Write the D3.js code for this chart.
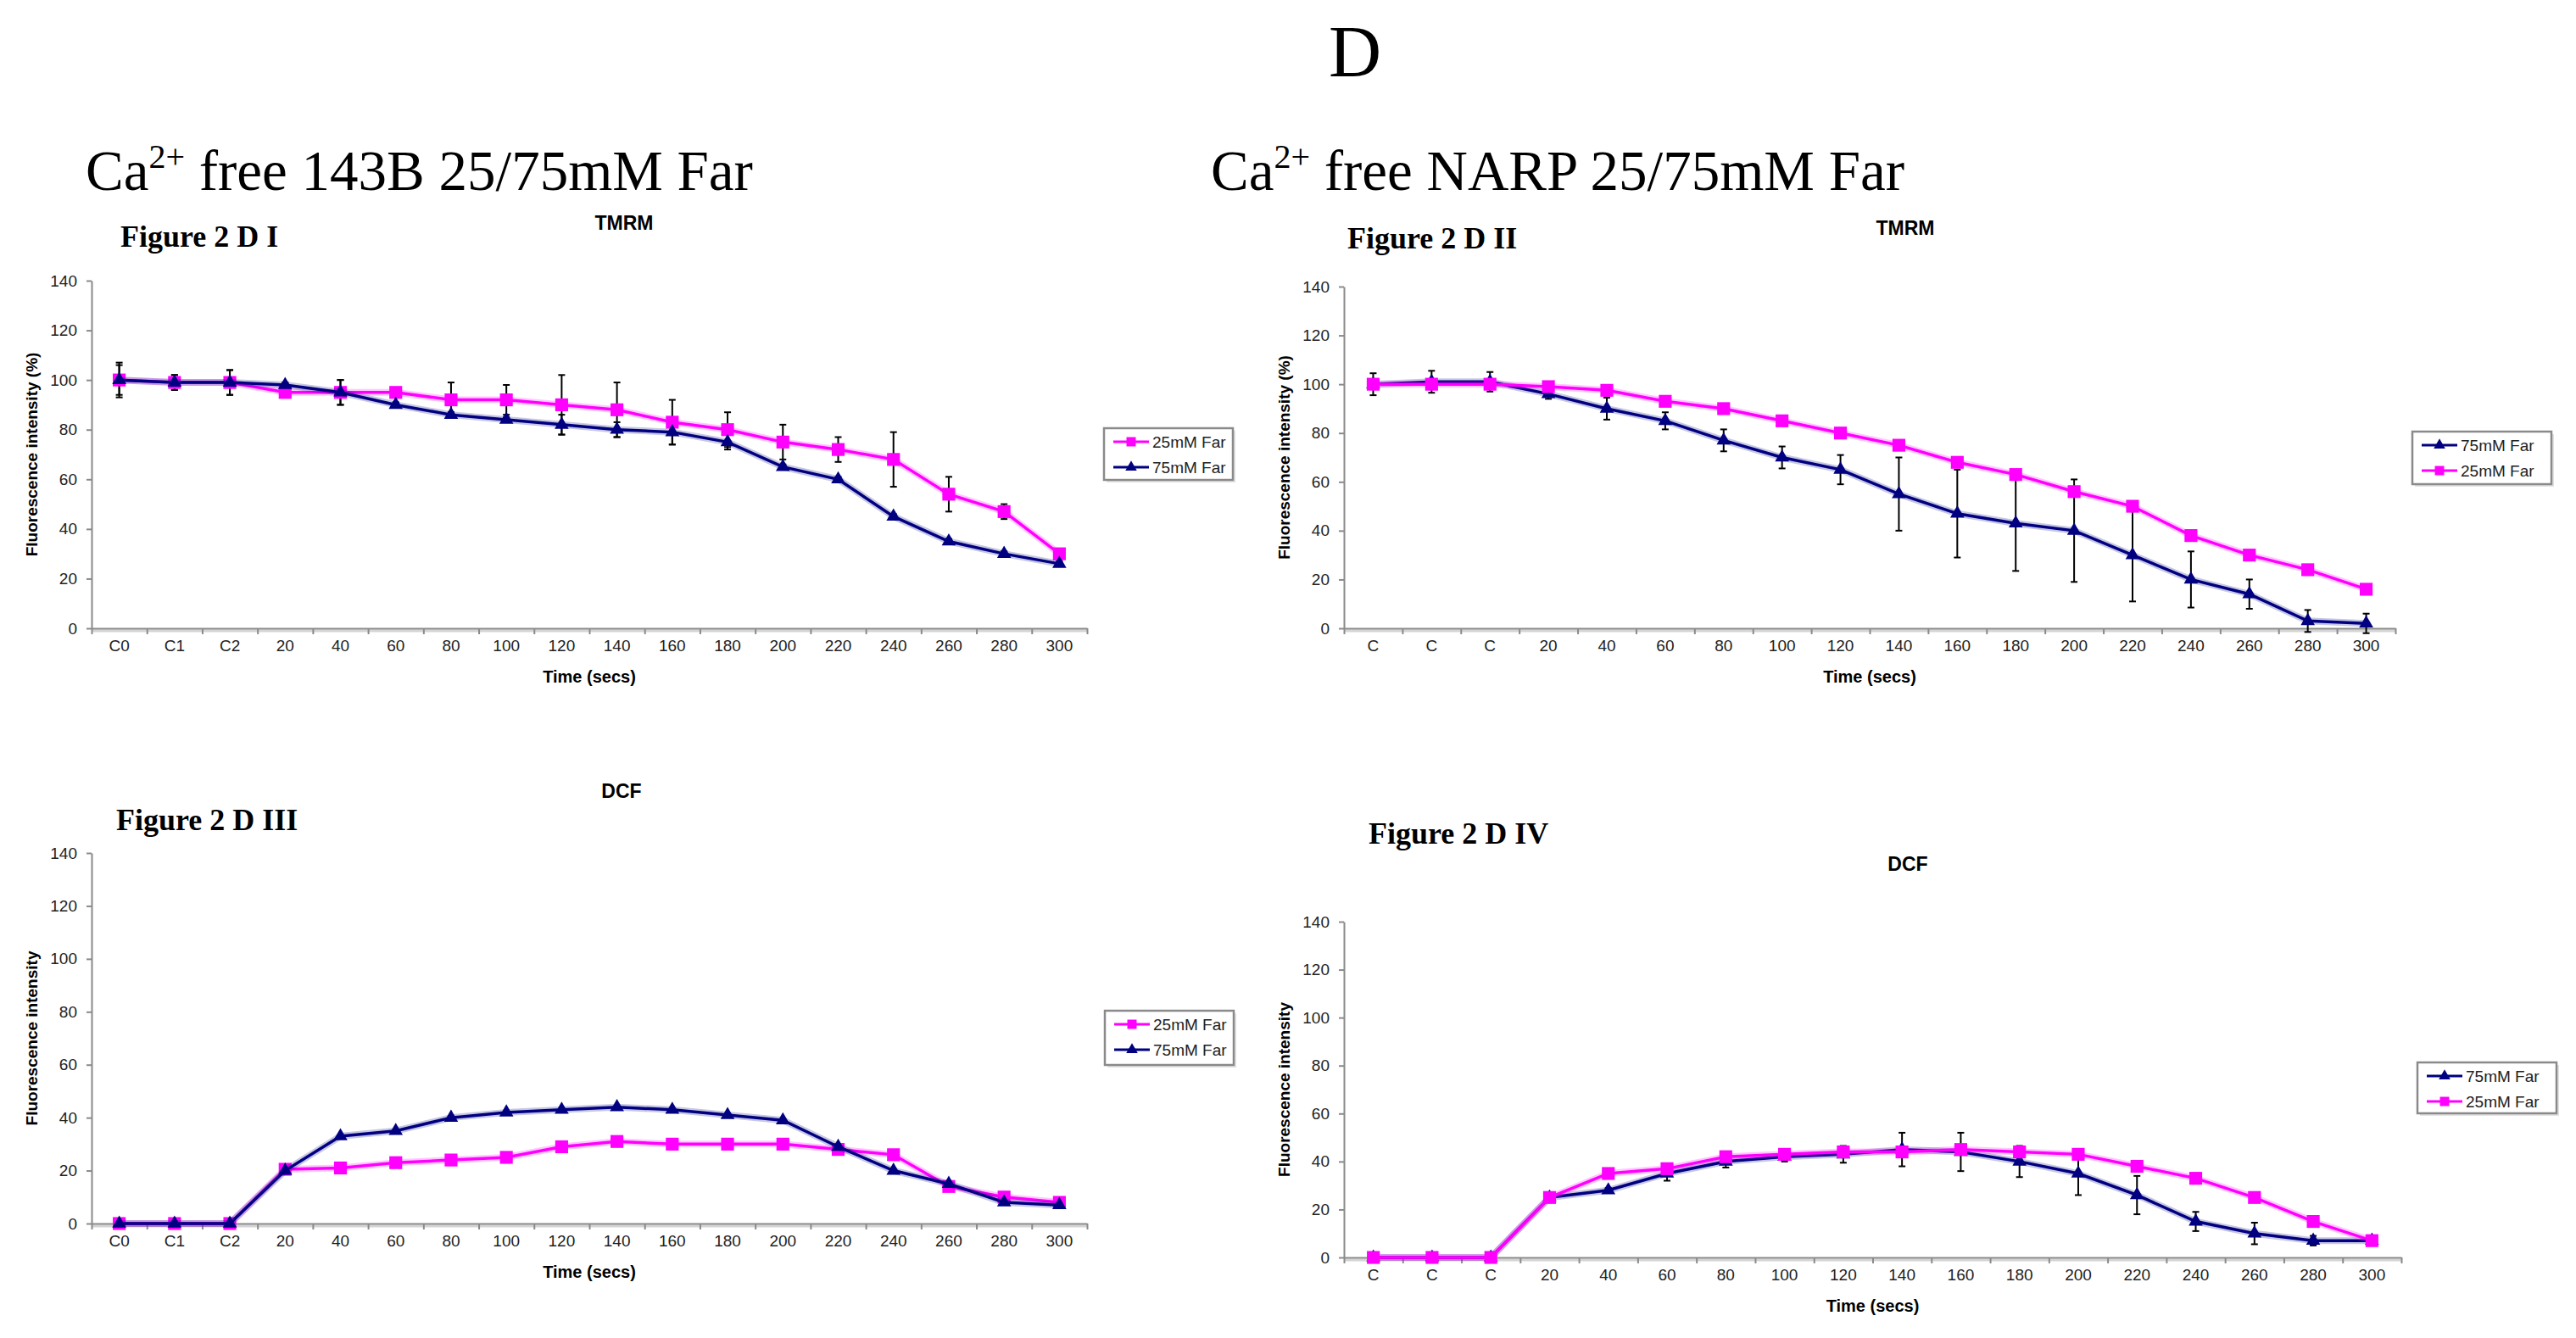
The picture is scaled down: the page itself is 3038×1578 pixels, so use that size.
<!DOCTYPE html>
<html>
<head>
<meta charset="utf-8">
<script src="https://cdn.jsdelivr.net/npm/d3@7"></script>
<style>
body { margin: 0; background: #fff; }
svg text { font-family: "Liberation Sans", Arial, sans-serif; }
</style>
</head>
<body>
<svg id="chart" width="3038" height="1578"></svg>
<script>
// category labels
const labels143B = ["C0", "C1", "C2", "20", "40", "60", "80", "100", "120", "140", "160", "180", "200", "220", "240", "260", "280", "300"];
const labelsNARP = ["C", "C", "C", "20", "40", "60", "80", "100", "120", "140", "160", "180", "200", "220", "240", "260", "280", "300"];
const yTicks = [0, 20, 40, 60, 80, 100, 120, 140];

// Figure 2 D I - TMRM, 143B
const tmrm143B_25 = [100, 99, 99, 95, 95, 95, 92, 92, 90, 88, 83, 80, 75, 72, 68, 54, 47, 30];
const tmrm143B_25_err = [7, 3, 5, 2, 5, 1, 7, 6, 12, 11, 9, 7, 7, 5, 11, 7, 3, 2];
const tmrm143B_75 = [100, 99, 99, 98, 95, 90, 86, 84, 82, 80, 79, 75, 65, 60, 45, 35, 30, 26];
const tmrm143B_75_err = [6, 3, 5, 1, 5, 1, 1, 1, 4, 3, 5, 3, 1, 1, 1, 1, 1, 1];

// Figure 2 D II - TMRM, NARP
const tmrmNARP_75 = [100, 101, 101, 96, 90, 85, 77, 70, 65, 55, 47, 43, 40, 30, 20, 14, 3, 2];
const tmrmNARP_75_err = [4.5, 4.5, 4, 2, 4.5, 3.5, 4.5, 4.5, 6, 15, 18, 19.5, 21, 19, 11.5, 6, 4.5, 4];
const tmrmNARP_25 = [100, 100, 100, 99, 97.5, 93, 90, 85, 80, 75, 68, 63, 56, 50, 38, 30, 24, 16];
const tmrmNARP_25_err = [1, 1, 1, 1, 1, 1, 1, 1, 1, 1, 1, 1, 1, 1, 1, 1, 1, 1];

// Figure 2 D III - DCF, 143B
const dcf143B_25 = [0, 0, 0, 20.5, 21, 23, 24, 25, 29, 31, 30, 30, 30, 28, 26, 14, 10, 8];
const dcf143B_75 = [0, 0, 0, 20, 33, 35, 40, 42, 43, 44, 43, 41, 39, 29, 20, 15, 8, 7];

// Figure 2 D IV - DCF, NARP
const dcfNARP_75 = [0, 0, 0, 25, 28, 35, 40, 42, 43, 45, 44, 40, 35, 26, 15, 10, 7, 7];
const dcfNARP_75_err = [0, 0, 0, 1, 1, 3, 2.5, 2, 3.5, 7, 8, 6.5, 9, 8, 4, 4.5, 2, 1];
const dcfNARP_25 = [0, 0, 0, 25, 35, 37, 42, 43, 44, 44, 45, 44, 43, 38, 33, 25, 15, 7];

const PINK = "#ff00ff";
const NAVY = "#000080";
const AXIS_COLOR = "#8a8a8a";
const TICK_FONT = "19px";

const svg = d3.select("#chart");

svg.append("text")
    .attr("x", 1598).attr("y", 90)
    .attr("text-anchor", "middle")
    .style("font-family", "'Liberation Serif', 'Times New Roman', serif")
    .style("font-size", "86px")
    .text("D");

function heading(x, y, rest) {
    let t = svg.append("text")
        .attr("x", x).attr("y", y)
        .style("font-family", "'Liberation Serif', 'Times New Roman', serif")
        .style("font-size", "67px");
    t.append("tspan").text("Ca");
    t.append("tspan").attr("dy", -26).style("font-size", "40px").text("2+");
    t.append("tspan").attr("dy", 26).text(rest);
}
heading(101, 224, " free 143B 25/75mM Far");
heading(1428, 224, " free NARP 25/75mM Far");

function drawPanel(p) {
    let g = svg.append("g");
    let n = p.labels.length;
    let x = d3.scaleBand().domain(d3.range(n)).range([p.xL, p.xR]);
    let xEdge = d3.scaleLinear().domain([0, n]).range([p.xL, p.xR]);
    let y = d3.scaleLinear().domain([0, 140]).range([p.yBot, p.yTop]);
    let cx = i => x(i) + x.bandwidth() / 2;

    // figure label and chart title
    g.append("text")
        .attr("x", p.figX).attr("y", p.figY)
        .style("font-family", "'Liberation Serif', 'Times New Roman', serif")
        .style("font-weight", "bold")
        .style("font-size", "36px")
        .text(p.fig);
    g.append("text")
        .attr("x", p.titleX).attr("y", p.titleY)
        .attr("text-anchor", "middle")
        .style("font-weight", "bold")
        .style("font-size", "23px")
        .text(p.title);

    // y axis
    g.append("g")
        .attr("transform", `translate(${p.xL},0)`)
        .call(d3.axisLeft(y).tickValues(yTicks).tickSize(6).tickSizeOuter(0).tickPadding(11))
        .call(a => a.selectAll("path,line").attr("stroke", AXIS_COLOR).attr("stroke-width", 2))
        .call(a => a.selectAll("text").style("font-size", TICK_FONT).attr("fill", "#222"));

    // x axis: light shadow then the line
    g.append("line")
        .attr("x1", p.xL).attr("x2", p.xR)
        .attr("y1", p.yBot + 3).attr("y2", p.yBot + 3)
        .attr("stroke", "#d4d4d4").attr("stroke-width", 3);
    g.append("g")
        .attr("transform", `translate(0,${p.yBot})`)
        .call(d3.axisBottom(xEdge).tickValues(d3.range(n + 1)).tickFormat("").tickSize(7).tickSizeOuter(0))
        .call(a => a.selectAll("path,line").attr("stroke", AXIS_COLOR).attr("stroke-width", 2));
    g.append("g")
        .attr("transform", `translate(0,${p.yBot})`)
        .call(d3.axisBottom(x).tickFormat(i => p.labels[i]).tickSize(0).tickPadding(14))
        .call(a => a.select(".domain").remove())
        .call(a => a.selectAll("text").style("font-size", TICK_FONT).attr("fill", "#222"));

    // axis titles
    g.append("text")
        .attr("x", (p.xL + p.xR) / 2).attr("y", p.yBot + 64)
        .attr("text-anchor", "middle")
        .style("font-weight", "bold")
        .style("font-size", "20px")
        .text("Time (secs)");
    g.append("text")
        .attr("transform", `translate(${p.yLabX}, ${(p.yTop + p.yBot) / 2}) rotate(-90)`)
        .attr("text-anchor", "middle")
        .style("font-weight", "bold")
        .style("font-size", "19px")
        .text(p.yLabel);

    let line = d3.line().x((d, i) => cx(i)).y(d => y(d));

    // error bars
    p.series.forEach(s => {
        if (!s.err) return;
        let eb = g.append("g").attr("stroke", "#000").attr("stroke-width", 2);
        s.values.forEach((v, i) => {
            let e = s.err[i];
            if (!e) return;
            eb.append("line").attr("x1", cx(i)).attr("x2", cx(i)).attr("y1", y(v - e)).attr("y2", y(v + e));
            eb.append("line").attr("x1", cx(i) - 4).attr("x2", cx(i) + 4).attr("y1", y(v + e)).attr("y2", y(v + e));
            eb.append("line").attr("x1", cx(i) - 4).attr("x2", cx(i) + 4).attr("y1", y(v - e)).attr("y2", y(v - e));
        });
    });

    // lines and markers, drawn in the given order
    p.drawOrder.forEach(k => {
        let s = p.series[k];
        g.append("path").datum(s.values)
            .attr("d", line).attr("fill", "none")
            .attr("stroke", s.color).attr("stroke-opacity", 0.22).attr("stroke-width", 8);
        g.append("path").datum(s.values)
            .attr("d", line).attr("fill", "none")
            .attr("stroke", s.color).attr("stroke-width", 3.5);
        g.selectAll(null).data(s.values).enter()
            .append("path")
            .attr("transform", (d, i) => `translate(${cx(i)},${y(d)})`)
            .attr("d", d3.symbol().type(s.shape).size(s.shape === d3.symbolSquare ? 230 : 120))
            .attr("fill", s.color);
    });

    // legend
    let lg = g.append("g").attr("transform", `translate(${p.legX},${p.legY})`);
    lg.append("rect").attr("x", 3).attr("y", 3).attr("width", p.legW).attr("height", p.legH).attr("fill", "#e2e2e2");
    lg.append("rect").attr("width", p.legW).attr("height", p.legH)
        .attr("fill", "#fff").attr("stroke", "#8a8a8a").attr("stroke-width", 2.5);
    p.series.forEach((s, k) => {
        let ry = 16 + k * 30;
        lg.append("line").attr("x1", 11).attr("x2", 53).attr("y1", ry).attr("y2", ry)
            .attr("stroke", s.color).attr("stroke-width", 3);
        lg.append("path").attr("transform", `translate(32,${ry})`)
            .attr("d", d3.symbol().type(s.shape).size(s.shape === d3.symbolSquare ? 120 : 80))
            .attr("fill", s.color);
        lg.append("text").attr("x", 57).attr("y", ry + 7)
            .style("font-size", "19px").attr("fill", "#222")
            .text(s.name);
    });
}

drawPanel({
    labels: labels143B, xL: 108, xR: 1282, yTop: 331, yBot: 741,
    fig: "Figure 2 D I", figX: 142, figY: 291,
    title: "TMRM", titleX: 736, titleY: 271,
    yLabel: "Fluorescence intensity (%)", yLabX: 44,
    legX: 1302, legY: 505, legW: 152, legH: 61,
    series: [
        {name: "25mM Far", values: tmrm143B_25, err: tmrm143B_25_err, color: PINK, shape: d3.symbolSquare},
        {name: "75mM Far", values: tmrm143B_75, err: tmrm143B_75_err, color: NAVY, shape: d3.symbolTriangle}
    ],
    drawOrder: [0, 1]
});

drawPanel({
    labels: labelsNARP, xL: 1585, xR: 2825, yTop: 338, yBot: 741,
    fig: "Figure 2 D II", figX: 1589, figY: 293,
    title: "TMRM", titleX: 2247, titleY: 277,
    yLabel: "Fluorescence intensity (%)", yLabX: 1521,
    legX: 2845, legY: 509, legW: 164, legH: 62,
    series: [
        {name: "75mM Far", values: tmrmNARP_75, err: tmrmNARP_75_err, color: NAVY, shape: d3.symbolTriangle},
        {name: "25mM Far", values: tmrmNARP_25, err: tmrmNARP_25_err, color: PINK, shape: d3.symbolSquare}
    ],
    drawOrder: [0, 1]
});

drawPanel({
    labels: labels143B, xL: 108, xR: 1282, yTop: 1006, yBot: 1443,
    fig: "Figure 2 D III", figX: 137, figY: 979,
    title: "DCF", titleX: 733, titleY: 941,
    yLabel: "Fluorescence intensity", yLabX: 44,
    legX: 1303, legY: 1192, legW: 152, legH: 64,
    series: [
        {name: "25mM Far", values: dcf143B_25, err: null, color: PINK, shape: d3.symbolSquare},
        {name: "75mM Far", values: dcf143B_75, err: null, color: NAVY, shape: d3.symbolTriangle}
    ],
    drawOrder: [0, 1]
});

drawPanel({
    labels: labelsNARP, xL: 1585, xR: 2832, yTop: 1087, yBot: 1483,
    fig: "Figure 2 D IV", figX: 1614, figY: 995,
    title: "DCF", titleX: 2250, titleY: 1027,
    yLabel: "Fluorescence intensity", yLabX: 1521,
    legX: 2851, legY: 1253, legW: 164, legH: 60,
    series: [
        {name: "75mM Far", values: dcfNARP_75, err: dcfNARP_75_err, color: NAVY, shape: d3.symbolTriangle},
        {name: "25mM Far", values: dcfNARP_25, err: null, color: PINK, shape: d3.symbolSquare}
    ],
    drawOrder: [0, 1]
});
</script>
</body>
</html>
